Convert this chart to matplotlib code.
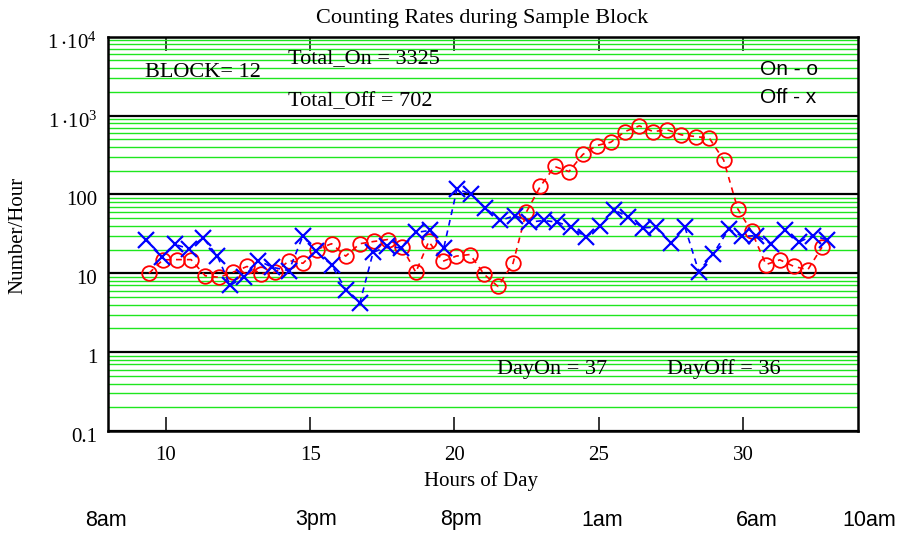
import matplotlib
matplotlib.use("Agg")
import matplotlib.pyplot as plt
from matplotlib.ticker import FixedLocator, LogLocator, NullFormatter
from matplotlib.transforms import blended_transform_factory, ScaledTranslation

plt.rcParams["font.family"] = ["Liberation Serif", "DejaVu Serif"]
plt.rcParams["mathtext.fontset"] = "custom"
plt.rcParams["mathtext.rm"] = "Liberation Serif"

# On counts (circles)
hours_on = [9.41, 9.89, 10.38, 10.87, 11.36, 11.83, 12.32, 12.81, 13.29, 13.79,
            14.27, 14.75, 15.22, 15.74, 16.23, 16.72, 17.20, 17.69, 18.18, 18.66,
            19.11, 19.60, 20.06, 20.54, 21.03, 21.51, 22.03, 22.49, 22.98, 23.47,
            23.97, 24.45, 24.93, 25.42, 25.91, 26.41, 26.89, 27.38, 27.87, 28.36,
            28.84, 29.33, 29.82, 30.30, 30.80, 31.28, 31.77, 32.25, 32.74]
count_on = [10.0, 14.8, 14.9, 14.9, 9.3, 8.9, 10.3, 12.2, 9.9, 10.3,
            14.5, 13.4, 20.0, 23.7, 16.5, 23.7, 25.3, 26.8, 21.4, 10.3,
            25.3, 14.2, 16.5, 17.3, 9.7, 6.8, 13.4, 59.5, 127, 226,
            195, 321, 417, 459, 627, 740, 627, 659, 569, 542,
            515, 274, 65.7, 33.9, 12.9, 14.8, 12.2, 11.1, 21.4]

# Off counts (crosses)
hours_off = [9.32, 9.87, 10.32, 10.80, 11.28, 11.77, 12.23, 12.71, 13.20, 13.69,
             14.26, 14.75, 15.19, 15.74, 16.23, 16.72, 17.18, 17.67, 18.13, 18.66,
             19.14, 19.63, 20.09, 20.58, 21.07, 21.58, 22.11, 22.60, 23.09, 23.57,
             24.05, 24.56, 25.05, 25.53, 26.03, 26.52, 26.97, 27.50, 27.99, 28.47,
             28.97, 29.51, 29.98, 30.47, 30.96, 31.45, 31.94, 32.42, 32.92]
count_off = [26.8, 16.3, 23.2, 20.4, 28.2, 16.8, 7.0, 9.1, 14.5, 11.9,
             10.8, 29.9, 18.9, 12.8, 6.2, 4.2, 18.4, 21.9, 21.0, 32.9,
             34.9, 21.0, 118, 99.8, 67.6, 46.7, 54.0, 44.5, 46.7, 44.5,
             38.4, 28.7, 39.2, 63.8, 51.4, 37.7, 38.4, 24.1, 38.4, 10.5,
             17.7, 36.2, 29.3, 30.1, 23.7, 35.6, 24.8, 30.1, 26.6]

y_ticks = [0.1, 1, 10, 100, 1000, 10000]
y_labels = ["0.1", "1", "10", "100", r"$\mathregular{1\,{\cdot}10^{3}}$",
            r"$\mathregular{1\,{\cdot}10^{4}}$"]
x_ticks = [10, 15, 20, 25, 30]

clock_hours = [7.92, 15.22, 20.24, 25.13, 30.49, 34.38]
clock_labels = ["8am", "3pm", "8pm", "1am", "6am", "10am"]

green = "#1ee61e"

fig = plt.figure(figsize=(9.04, 5.33), dpi=100)
ax = fig.add_axes([108.3 / 904, 1 - 431 / 533, 750 / 904, 394.3 / 533])
ax.set_yscale("log")
ax.set_xlim(8, 34)
ax.set_ylim(0.1, 1e4)

ax.yaxis.set_major_locator(FixedLocator(y_ticks))
ax.yaxis.set_major_formatter(plt.FixedFormatter(y_labels))
ax.yaxis.set_minor_locator(LogLocator(base=10, subs=range(2, 10), numticks=20))
ax.yaxis.set_minor_formatter(NullFormatter())
ax.grid(which="minor", axis="y", color=green, lw=1.0, zorder=1)
ax.grid(which="major", axis="y", color="black", lw=1.6, zorder=2)
ax.tick_params(axis="y", which="both", length=0, pad=8, labelsize=15)

ax.set_xticks(x_ticks)
ax.tick_params(axis="x", direction="in", length=10, width=1.1, top=True,
               pad=11, labelsize=15)

for s in ax.spines.values():
    s.set_linewidth(1.8)

for lab in ax.get_yticklabels():
    lab.set_transform(lab.get_transform() + ScaledTranslation(0, -0.04, fig.dpi_scale_trans))

ax.plot(hours_on, count_on, color="red", ls=(0, (3.5, 3)), lw=1.2,
        marker="o", ms=10.5, mfc="none", mew=1.3, zorder=4, clip_on=False)
ax.plot(hours_off, count_off, color="blue", ls=(0, (3.5, 3)), lw=1.2,
        marker="x", ms=11, mew=1.6, zorder=5, clip_on=False)

ax.text(9.26, 3508, "BLOCK= 12", fontsize=16, va="center", ha="left")
ax.text(14.22, 5275, "Total_On = 3325", fontsize=16, va="center", ha="left")
ax.text(14.22, 1517, "Total_Off = 702", fontsize=16, va="center", ha="left")
ax.text(30.58, 3830, "On - o", fontsize=15, va="center", ha="left",
        family="Liberation Sans")
ax.text(30.58, 1690, "Off - x", fontsize=15, va="center", ha="left",
        family="Liberation Sans")
ax.text(21.48, 0.604, "DayOn = 37", fontsize=16, va="center", ha="left")
ax.text(27.37, 0.604, "DayOff = 36", fontsize=16, va="center", ha="left")

fig.text(482 / 904, 1 - 18 / 533, "Counting Rates during Sample Block",
         fontsize=16, ha="center", va="center")
fig.text(481 / 904, 1 - 481 / 533, "Hours of Day", fontsize=15,
         ha="center", va="center")
fig.text(18 / 904, 1 - 235 / 533, "Number/Hour", fontsize=15,
         ha="center", va="center", rotation=90)

trans = blended_transform_factory(ax.transData, fig.transFigure)
for h, lab in zip(clock_hours, clock_labels):
    ax.text(h, 1 - 520 / 533, lab, transform=trans, fontsize=15.5,
            family="Liberation Sans", ha="center", va="center", clip_on=False)

fig.savefig("out.png", dpi=100)
